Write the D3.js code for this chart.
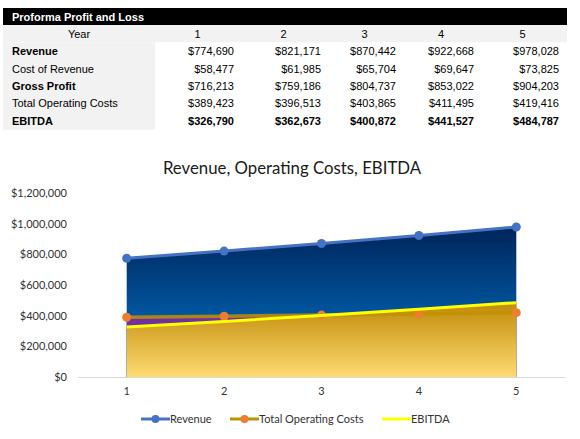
<!DOCTYPE html>
<html>
<head>
<meta charset="utf-8">
<script src="https://cdn.jsdelivr.net/npm/d3@7"></script>
<style>
  html, body { margin: 0; padding: 0; background: #fff; }
  svg { display: block; }
  .tbl { font-family: "Liberation Sans", Arial, sans-serif; font-size: 11px; }
  .chart-text { font-family: Lato, "Open Sans", sans-serif; }
</style>
</head>
<body>
<div id="chart"></div>
<script>
const years = [1, 2, 3, 4, 5];
const revenue = [774690, 821171, 870442, 922668, 978028];
const costOfRevenue = [58477, 61985, 65704, 69647, 73825];
const grossProfit = [716213, 759186, 804737, 853022, 904203];
const opCosts = [389423, 396513, 403865, 411495, 419416];
const ebitda = [326790, 362673, 400872, 441527, 484787];
const yTicks = [0, 200000, 400000, 600000, 800000, 1000000, 1200000];

const tableRows = [
  { label: 'Revenue', values: revenue, boldLabel: true, boldValues: false },
  { label: 'Cost of Revenue', values: costOfRevenue, boldLabel: false, boldValues: false },
  { label: 'Gross Profit', values: grossProfit, boldLabel: true, boldValues: false },
  { label: 'Total Operating Costs', values: opCosts, boldLabel: false, boldValues: false },
  { label: 'EBITDA', values: ebitda, boldLabel: true, boldValues: true }
];

const width = 580, height = 439;
const svg = d3.select('#chart').append('svg').attr('width', width).attr('height', height);
const money = v => '$' + d3.format(',')(v);

// ---- table ----
const colEdges = [155, 240, 327, 402, 480, 565];
const rowH = 17.3;
const tbl = svg.append('g').attr('class', 'tbl');
tbl.append('rect').attr('x', 3).attr('y', 8).attr('width', 564).attr('height', 17).attr('fill', '#000');
tbl.append('text').attr('x', 12).attr('y', 21).attr('fill', '#fff').attr('font-weight', 700).text('Proforma Profit and Loss');
tbl.append('rect').attr('x', 3).attr('y', 25).attr('width', 564).attr('height', rowH).attr('fill', '#f2f2f2');
tbl.append('rect').attr('x', 3).attr('y', 25 + rowH).attr('width', colEdges[0] - 3).attr('height', rowH * 5 + 1).attr('fill', '#f2f2f2');
tbl.append('text').attr('x', (3 + colEdges[0]) / 2).attr('y', 25 + rowH / 2 + 4).attr('text-anchor', 'middle').text('Year');
years.forEach((yr, i) => {
  tbl.append('text').attr('x', (colEdges[i] + colEdges[i + 1]) / 2).attr('y', 25 + rowH / 2 + 4)
    .attr('text-anchor', 'middle').text(yr);
});
tableRows.forEach((row, r) => {
  const cy = 25 + rowH * (r + 1) + rowH / 2 + 4.5;
  tbl.append('text').attr('x', 12).attr('y', cy).attr('font-weight', row.boldLabel ? 700 : 400).text(row.label);
  row.values.forEach((v, i) => {
    tbl.append('text').attr('x', colEdges[i + 1] - 6).attr('y', cy).attr('text-anchor', 'end')
      .attr('font-weight', row.boldValues ? 700 : 400).text(money(v));
  });
});

// ---- chart ----
const x = d3.scalePoint().domain(years).range([78, 565]).padding(0.5);
const y = d3.scaleLinear().domain([0, 1200000]).range([377, 193]);

svg.append('text').attr('class', 'chart-text').attr('x', 292).attr('y', 174)
  .attr('text-anchor', 'middle').style('font-size', '16.8px').style('fill', '#1a1a1a')
  .text('Revenue, Operating Costs, EBITDA');

const defs = svg.append('defs');
const gBlue = defs.append('linearGradient').attr('id', 'gBlue').attr('gradientUnits', 'userSpaceOnUse')
  .attr('x1', 0).attr('x2', 0).attr('y1', y(1000000)).attr('y2', y(350000));
gBlue.append('stop').attr('offset', '0%').attr('stop-color', '#002257');
gBlue.append('stop').attr('offset', '100%').attr('stop-color', '#005ba6');
const gGold = defs.append('linearGradient').attr('id', 'gGold').attr('gradientUnits', 'userSpaceOnUse')
  .attr('x1', 0).attr('x2', 0).attr('y1', y(450000)).attr('y2', y(0));
gGold.append('stop').attr('offset', '0%').attr('stop-color', '#c4900f');
gGold.append('stop').attr('offset', '100%').attr('stop-color', '#ffdb72');

svg.append('g').attr('class', 'chart-text').selectAll('text').data(yTicks).join('text')
  .attr('x', 67).attr('y', d => y(d) + 4).attr('text-anchor', 'end')
  .style('font-size', '11px').style('fill', '#333').text(money);

const series = [
  { name: 'Revenue', values: revenue, fill: 'url(#gBlue)', line: '#4472c4', lw: 3, marker: '#4472c4' },
  { name: 'Total Operating Costs', values: opCosts, fill: '#7030a0', line: '#bf9000', lw: 3.5, marker: '#ed7d31' },
  { name: 'EBITDA', values: ebitda, fill: 'url(#gGold)', line: '#ffff00', lw: 3, marker: null }
];

const area = vals => d3.area().x((d, i) => x(years[i])).y0(y(0)).y1(d => y(d))(vals);
const line = vals => d3.line().x((d, i) => x(years[i])).y(d => y(d))(vals);

series.forEach(s => {
  svg.append('path').attr('d', area(s.values)).attr('fill', s.fill);
});
series.forEach(s => {
  svg.append('path').attr('d', line(s.values)).attr('fill', 'none')
    .attr('stroke', s.line).attr('stroke-width', s.lw).attr('stroke-opacity', s.name === 'Total Operating Costs' ? 0.85 : 1);
  if (s.marker) {
    svg.append('g').selectAll('circle').data(s.values).join('circle')
      .attr('cx', (d, i) => x(years[i])).attr('cy', d => y(d)).attr('r', 4.5).attr('fill', s.marker);
  }
});

svg.append('line').attr('x1', 78).attr('x2', 565).attr('y1', y(0) + 0.5).attr('y2', y(0) + 0.5)
  .attr('stroke', '#d9d9d9').attr('stroke-width', 1);

svg.append('g').attr('class', 'chart-text').selectAll('text').data(years).join('text')
  .attr('x', d => x(d)).attr('y', 395).attr('text-anchor', 'middle')
  .style('font-size', '11px').style('fill', '#333').text(d => d);

// ---- legend ----
const legendX = [141, 230, 382];
const legend = svg.append('g').attr('class', 'chart-text');
series.forEach((s, i) => {
  const lx = legendX[i], ly = 419;
  legend.append('line').attr('x1', lx).attr('x2', lx + 29).attr('y1', ly).attr('y2', ly)
    .attr('stroke', s.line).attr('stroke-width', 3);
  if (s.marker) legend.append('circle').attr('cx', lx + 14.5).attr('cy', ly).attr('r', 4).attr('fill', s.marker);
  legend.append('text').attr('x', lx + 29).attr('y', ly + 4)
    .style('font-size', '11px').style('fill', '#333').text(s.name);
});
</script>
</body>
</html>
